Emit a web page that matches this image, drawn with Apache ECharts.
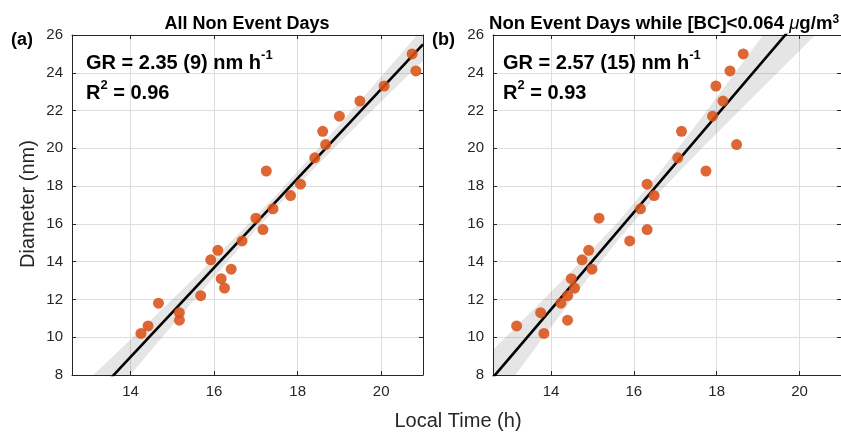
<!DOCTYPE html>
<html>
<head>
<meta charset="utf-8">
<script src="https://cdn.jsdelivr.net/npm/echarts@6/dist/echarts.min.js"></script>
<style>
html,body{margin:0;padding:0;background:#fff;}
#chart{width:841px;height:432px;}
</style>
</head>
<body>
<div id="chart"></div>
<script>
// ---- data ----
const xTicks = [14, 16, 18, 20];
const yTicks = [8, 10, 12, 14, 16, 18, 20, 22, 24, 26];

// Panel (a): All Non Event Days
const leftX = [14.25,14.42,14.67,15.17,15.17,15.68,15.92,16.09,16.17,16.25,16.41,16.67,17.0,17.17,17.41,17.83,18.07,17.25,18.41,18.67,18.6,19.0,19.49,20.07,20.74,20.83];
const leftY = [10.2,10.6,11.8,11.3,10.9,12.2,14.1,14.6,13.1,12.6,13.6,15.1,16.3,15.7,16.8,17.5,18.1,18.8,19.5,20.2,20.9,21.7,22.5,23.3,25.0,24.1];
const leftFitX = [12.6, 21.0];
const leftFitY = [5.64, 25.5];
const leftBandX = [12.6,13.6,14.6,15.6,16.6,17.6,18.6,19.6,20.6,21.0];
const leftUpper = [6.94,9.03,11.15,13.29,15.5,17.8,20.25,22.77,25.34,26.37];
const leftLower = [4.34,6.97,9.59,12.17,14.7,17.12,19.4,21.61,23.78,24.63];

// Panel (b): Non Event Days while [BC]<0.064 ug/m3
const rightX = [13.17,13.75,13.83,14.24,14.4,14.4,14.57,14.49,14.75,14.91,14.99,15.16,15.9,16.16,16.32,16.49,16.32,17.74,17.06,18.48,17.15,17.9,18.15,17.98,18.32,18.64];
const rightY = [10.6,11.3,10.2,11.8,12.2,10.9,12.6,13.1,14.1,14.6,13.6,16.3,15.1,16.8,15.7,17.5,18.1,18.8,19.5,20.2,20.9,21.7,22.5,23.3,24.1,25.0];
const rightFitX = [12.6, 20.6];
const rightFitY = [7.87, 28.43];
const rightBandX = [12.6,13.6,14.6,15.6,16.6,17.6,18.6,19.6,20.6];
const rightUpper = [9.34,11.52,13.73,16.06,18.67,21.53,24.47,27.43,30.38];
const rightLower = [6.40,9.36,12.29,15.10,17.63,19.91,22.11,24.29,26.48];

const xMin = 12.6, xMax = 21;
const yMin = 8, yMax = 26;

// ---- styling ----
const FONT = '"Liberation Sans", Arial, Helvetica, sans-serif';
const AX = '#262626';
const GRIDC = '#dedede';

function pairs(xs, ys){ return xs.map((x,i)=>[x, ys[i]]); }

function xAxes(gi){
  return [
    { type:'value', gridIndex:gi, position:'bottom', min:xMin, max:xMax,
      axisLine:{show:true, onZero:false, lineStyle:{color:AX, width:1}},
      axisTick:{show:true, inside:true, length:4, customValues:xTicks, lineStyle:{color:AX}},
      axisLabel:{show:true, customValues:xTicks, fontSize:15, color:AX, fontFamily:FONT, margin:9},
      splitLine:{show:true, lineStyle:{color:GRIDC, width:1}} },
    { type:'value', gridIndex:gi, position:'top', min:xMin, max:xMax,
      axisLine:{show:true, onZero:false, lineStyle:{color:AX, width:1}},
      axisTick:{show:true, inside:true, length:4, customValues:xTicks, lineStyle:{color:AX}},
      axisLabel:{show:false}, splitLine:{show:false} }
  ];
}
function yAxes(gi){
  return [
    { type:'value', gridIndex:gi, position:'left', min:yMin, max:yMax,
      axisLine:{show:true, onZero:false, lineStyle:{color:AX, width:1}},
      axisTick:{show:true, inside:true, length:4, customValues:yTicks, lineStyle:{color:AX}},
      axisLabel:{show:true, customValues:yTicks, fontSize:15, color:AX, fontFamily:FONT, margin:9},
      splitLine:{show:true, lineStyle:{color:GRIDC, width:1}} },
    { type:'value', gridIndex:gi, position:'right', min:yMin, max:yMax,
      axisLine:{show:true, onZero:false, lineStyle:{color:AX, width:1}},
      axisTick:{show:true, inside:true, length:4, customValues:yTicks, lineStyle:{color:AX}},
      axisLabel:{show:false}, splitLine:{show:false} }
  ];
}

function bandSeries(xi, xs, up, lo){
  return {
    type:'custom', xAxisIndex:xi, yAxisIndex:xi, clip:true, silent:true, z:1,
    data:[[xs[0], up[0]]],
    renderItem:function(params, api){
      const pts = [];
      for (let i=0;i<xs.length;i++) pts.push(api.coord([xs[i], up[i]]));
      for (let i=xs.length-1;i>=0;i--) pts.push(api.coord([xs[i], lo[i]]));
      return { type:'polygon', shape:{points:pts}, style:{fill:'rgba(0,0,0,0.1)', stroke:null} };
    }
  };
}
function fitSeries(xi, xs, ys){
  return { type:'line', xAxisIndex:xi, yAxisIndex:xi, data:pairs(xs, ys), symbol:'none',
    clip:true, silent:true, z:2, lineStyle:{color:'#000', width:2.6} };
}
function dotSeries(xi, xs, ys){
  return { type:'scatter', xAxisIndex:xi, yAxisIndex:xi, data:pairs(xs, ys), symbol:'circle',
    symbolSize:11, z:3, itemStyle:{color:'#D95319', opacity:0.88} };
}

const sup = { fontSize:13, fontWeight:'bold', fontFamily:FONT, color:'#000', verticalAlign:'top', lineHeight:24 };
const big = { fontSize:20, fontWeight:'bold', fontFamily:FONT, color:'#000', lineHeight:24, verticalAlign:'bottom' };

function richText(x, y, txt, rich, align){
  return { type:'text', x:x, y:y, z:10, style:{ text:txt, rich:rich, align:align||'left', verticalAlign:'middle', fill:'#000', font:'bold 20px '+FONT } };
}

const chart = echarts.init(document.getElementById('chart'), null, {renderer:'canvas'});
chart.setOption({
  animation:false,
  backgroundColor:'#fff',
  grid:[
    {left:72, top:35, width:351, height:340, containLabel:false},
    {left:493, top:35, width:350, height:340, containLabel:false}
  ],
  xAxis: xAxes(0).concat(xAxes(1)),
  yAxis: yAxes(0).concat(yAxes(1)),
  series:[
    bandSeries(0, leftBandX, leftUpper, leftLower),
    fitSeries(0, leftFitX, leftFitY),
    dotSeries(0, leftX, leftY),
    bandSeries(2, rightBandX, rightUpper, rightLower),
    fitSeries(2, rightFitX, rightFitY),
    dotSeries(2, rightX, rightY)
  ],
  graphic:[
    { type:'text', x:247, y:24, z:10, style:{ text:'All Non Event Days', align:'center', verticalAlign:'middle', fill:'#000', font:'bold 18px '+FONT } },
    { type:'text', x:489, y:24, z:10, style:{ text:'{t|Non Event Days while [BC]<0.064 }{mu|μ}{t|g/m}{s|3}', align:'left', verticalAlign:'middle',
        rich:{ t:{fontSize:18.6, fontWeight:'bold', fontFamily:FONT, fill:'#000', lineHeight:20},
               mu:{fontSize:18.6, fontWeight:'normal', fontStyle:'italic', fontFamily:FONT, fill:'#000', lineHeight:20},
               s:{fontSize:12, fontWeight:'bold', fontFamily:FONT, fill:'#000', verticalAlign:'top', lineHeight:20} } } },
    { type:'text', x:11, y:40, z:10, style:{ text:'(a)', align:'left', verticalAlign:'middle', fill:'#000', font:'bold 18px '+FONT } },
    { type:'text', x:432, y:40, z:10, style:{ text:'(b)', align:'left', verticalAlign:'middle', fill:'#000', font:'bold 18px '+FONT } },
    richText(86, 61, '{b|GR = 2.35 (9) nm h}{s|-1}', {b:big, s:sup}),
    richText(86, 91, '{b|R}{s|2}{b| = 0.96}', {b:big, s:sup}),
    richText(503, 61, '{b|GR = 2.57 (15) nm h}{s|-1}', {b:big, s:sup}),
    richText(503, 91, '{b|R}{s|2}{b| = 0.93}', {b:big, s:sup}),
    { type:'text', x:458, y:421, z:10, style:{ text:'Local Time (h)', align:'center', verticalAlign:'middle', fill:AX, font:'20px '+FONT } },
    { type:'text', x:28, y:204, rotation:Math.PI/2, z:10, style:{ text:'Diameter (nm)', align:'center', verticalAlign:'middle', fill:AX, font:'20px '+FONT } }
  ]
});
</script>
</body>
</html>
